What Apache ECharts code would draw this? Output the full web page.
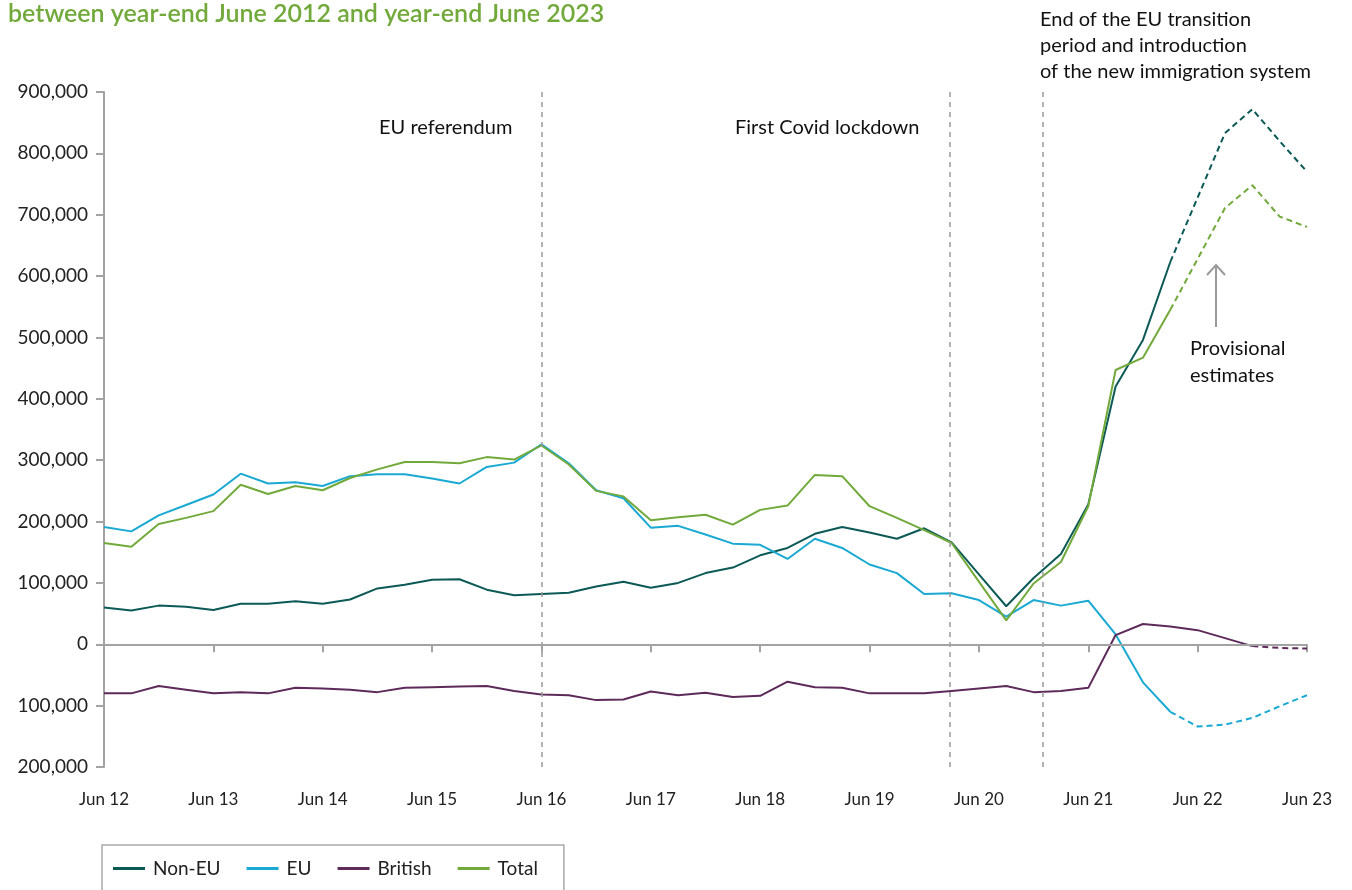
<!DOCTYPE html>
<html>
<head>
<meta charset="utf-8">
<script src="https://cdn.jsdelivr.net/npm/echarts@6/dist/echarts.min.js"></script>
<style>
  html, body { margin: 0; padding: 0; background: #fff; }
  #chart { width: 1352px; height: 890px; }
</style>
</head>
<body>
<div id="chart"></div>
<script>
// quarterly year-end points, Jun 12 .. Jun 23 (45 points), values in thousands
var quarters = ['Jun 12','Sep 12','Dec 12','Mar 13','Jun 13','Sep 13','Dec 13','Mar 14','Jun 14','Sep 14','Dec 14','Mar 15',
  'Jun 15','Sep 15','Dec 15','Mar 16','Jun 16','Sep 16','Dec 16','Mar 17','Jun 17','Sep 17','Dec 17','Mar 18',
  'Jun 18','Sep 18','Dec 18','Mar 19','Jun 19','Sep 19','Dec 19','Mar 20','Jun 20','Sep 20','Dec 20','Mar 21',
  'Jun 21','Sep 21','Dec 21','Mar 22','Jun 22','Sep 22','Dec 22','Mar 23','Jun 23'];

var nonEU = [60,55,63,61,56,66,66,70,66,73,91,97,
  105,106,89,80,82,84,94,102,92,100,116,125,
  145,157,180,191,182,172,189,166,114,62,108,147,
  228,420,496,623,728,833,872,820,770];

var eu = [191,184,210,227,244,278,262,264,258,274,277,277,
  270,262,289,296,326,295,251,238,190,193,179,164,
  162,139,172,157,130,116,82,83,72,45,72,63,
  71,16,-62,-110,-134,-131,-120,-101,-83];

var british = [-80,-80,-68,-74,-80,-78,-80,-71,-72,-74,-78,-71,
  -70,-69,-68,-76,-82,-83,-91,-90,-77,-83,-79,-86,
  -84,-61,-70,-71,-80,-80,-80,-76,-72,-68,-78,-76,
  -71,15,33,29,23,10,-3,-6,-7];

var total = [165,159,196,206,217,260,245,258,251,271,285,297,
  297,295,305,301,324,293,250,241,202,207,211,195,
  219,226,276,274,225,206,186,165,102,39,99,134,
  225,447,467,545,628,711,748,697,680];

// index where provisional (dashed) part starts
var provisionalFrom = { 'Non-EU': 39, 'EU': 39, 'British': 42, 'Total': 39 };

var colors = { 'Non-EU': '#0c5a56', 'EU': '#1aa9d3', 'British': '#5d2a5a', 'Total': '#72a93b' };
var seriesValues = { 'Non-EU': nonEU, 'EU': eu, 'British': british, 'Total': total };
var names = ['Non-EU', 'EU', 'British', 'Total'];

// event lines (in years after Jun 12)
var eventLines = [4.0, 7.73, 8.58];

var FONT = 'Lato, "Noto Sans", sans-serif';

function pairs(arr, from, to) {
  var out = [];
  for (var i = from; i <= to; i++) out.push([i * 0.25, arr[i]]);
  return out;
}

var series = [];
names.forEach(function (n) {
  var v = seriesValues[n];
  var p = provisionalFrom[n];
  series.push({
    name: n, type: 'line', showSymbol: false, symbol: 'none',
    data: pairs(v, 0, p),
    itemStyle: { color: colors[n] },
    lineStyle: { color: colors[n], width: 2 },
    z: 3
  });
  series.push({
    name: n + ' (provisional)', type: 'line', showSymbol: false, symbol: 'none',
    data: pairs(v, p, v.length - 1),
    itemStyle: { color: colors[n] },
    lineStyle: { color: colors[n], width: 2, type: [6, 4] },
    z: 3
  });
});

// reference lines
series.push({
  name: 'ref', type: 'line', data: [], silent: true,
  markLine: {
    symbol: 'none', silent: true, label: { show: false }, animation: false,
    data: eventLines.map(function (x) {
      return { xAxis: x, lineStyle: { color: '#9a9a9a', width: 1.5, type: [5, 5] } };
    }).concat([{ yAxis: 0, lineStyle: { color: '#a3a3a3', width: 2, type: 'solid' } }])
  },
  z: 1
});

var chart = echarts.init(document.getElementById('chart'));
chart.setOption({
  animation: false,
  backgroundColor: '#fff',
  grid: { left: 104, right: 45, top: 92, bottom: 123 },
  legend: {
    data: names,
    left: 102, top: 845,
    orient: 'horizontal',
    icon: 'rect',
    itemWidth: 32, itemHeight: 3,
    itemGap: 26,
    padding: [14, 26, 24, 11],
    borderColor: '#aaaaaa', borderWidth: 1.5,
    textStyle: { fontFamily: FONT, fontSize: 19, color: '#222', padding: [0, 0, 0, 3] }
  },
  xAxis: {
    type: 'value', min: 0, max: 11, interval: 1,
    axisLine: { show: true, lineStyle: { color: '#a3a3a3', width: 2 } },
    axisTick: { show: true, length: 8, lineStyle: { color: '#a3a3a3', width: 2 } },
    splitLine: { show: false },
    axisLabel: {
      margin: 24, fontFamily: FONT, fontSize: 17, color: '#222',
      formatter: function (v) { return 'Jun ' + (12 + v); }
    }
  },
  yAxis: {
    type: 'value', min: -200, max: 900, interval: 100,
    axisLine: { show: true, lineStyle: { color: '#a3a3a3', width: 2 } },
    axisTick: { show: true, length: 8, lineStyle: { color: '#a3a3a3', width: 2 } },
    splitLine: { show: false },
    axisLabel: {
      margin: 16, fontFamily: FONT, fontSize: 19, color: '#222',
      formatter: function (v) { return v === 0 ? '0' : Math.abs(v) + ',000'; }
    }
  },
  graphic: [
    { type: 'text', left: 8, top: 1,
      style: { text: 'between year-end June 2012 and year-end June 2023', font: '600 25px ' + FONT, fill: '#72a93b' } },
    { type: 'text', x: 379, y: 128,
      style: { text: 'EU referendum', font: '20px ' + FONT, fill: '#111', textVerticalAlign: 'middle' } },
    { type: 'text', x: 735, y: 128,
      style: { text: 'First Covid lockdown', font: '20px ' + FONT, fill: '#111', textVerticalAlign: 'middle' } },
    { type: 'text', x: 1040, y: 7,
      style: { text: 'End of the EU transition\nperiod and introduction\nof the new immigration system',
        font: '20px ' + FONT, lineHeight: 26, fill: '#111' } },
    { type: 'text', x: 1190, y: 335,
      style: { text: 'Provisional\nestimates', font: '20px ' + FONT, lineHeight: 27, fill: '#111' } },
    { type: 'line', shape: { x1: 1216, y1: 327, x2: 1216, y2: 265 },
      style: { stroke: '#9a9a9a', lineWidth: 2 } },
    { type: 'polyline', shape: { points: [[1207, 275], [1216, 265], [1225, 275]] },
      style: { stroke: '#9a9a9a', lineWidth: 2, fill: null } }
  ],
  series: series
});
</script>
</body>
</html>
